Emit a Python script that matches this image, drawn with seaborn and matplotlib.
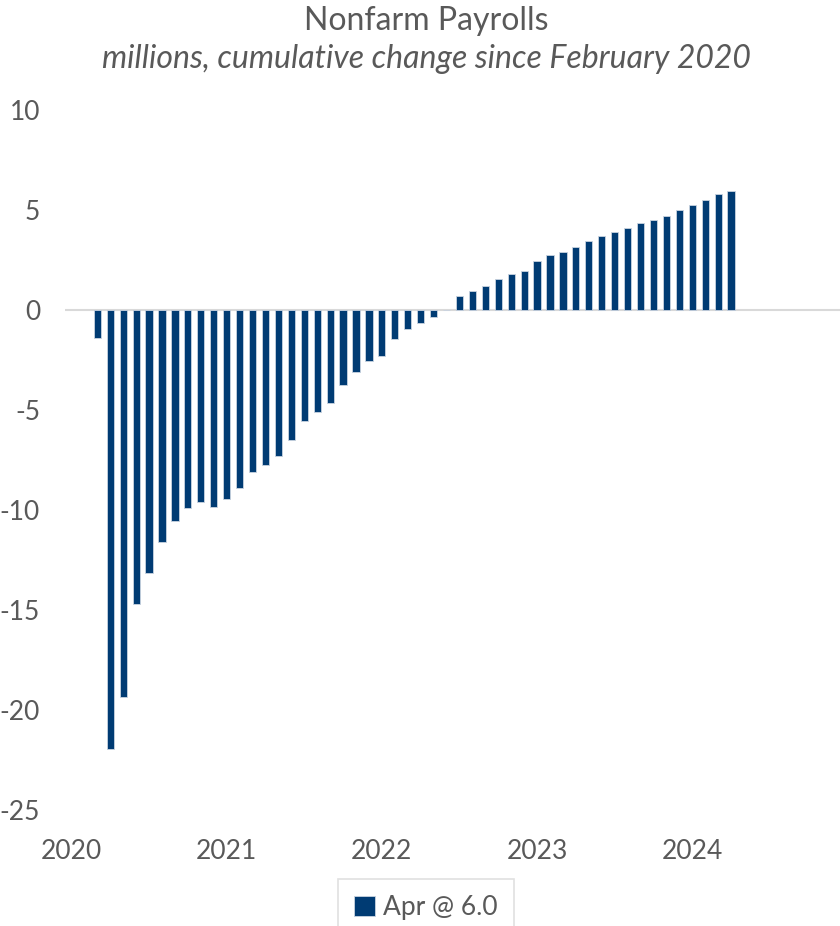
import matplotlib
matplotlib.use('Agg')
import matplotlib.pyplot as plt
import seaborn as sns
import pandas as pd
import numpy as np

# monthly cumulative change in nonfarm payrolls since Feb 2020, millions
months = pd.date_range('2020-03-01', '2024-04-01', freq='MS').strftime('%Y-%m').tolist()
values = [
    -1.42, -21.95, -19.37, -14.72, -13.13, -11.60, -10.53, -9.88, -9.60, -9.83,   # 2020 Mar-Dec
    -9.45, -8.92, -8.08, -7.77, -7.28, -6.52, -5.57, -5.10, -4.63, -3.77, -3.12, -2.55,  # 2021
    -2.30, -1.43, -0.93, -0.67, -0.37, -0.02, 0.70, 0.95, 1.20, 1.57, 1.82, 1.97,  # 2022
    2.45, 2.73, 2.88, 3.17, 3.47, 3.70, 3.88, 4.10, 4.35, 4.50, 4.70, 5.00,  # 2023
    5.25, 5.48, 5.80, 5.97,  # 2024 Jan-Apr
]
all_months = pd.date_range('2020-01-01', '2024-12-01', freq='MS').strftime('%Y-%m').tolist()
year_labels = ['2020', '2021', '2022', '2023', '2024']
legend_label = 'Apr @ 6.0'

navy = '#003B73'
grey = '#595959'

sns.set_style('white')
plt.rcParams['font.family'] = ['Lato', 'DejaVu Sans']
plt.rcParams['axes.unicode_minus'] = False

df = pd.DataFrame({'month': months, 'value': values})

fig = plt.figure(figsize=(8.4, 9.26), dpi=100)
ax = fig.add_axes([65 / 840, 116 / 926, 776 / 840, 700 / 926])

sns.barplot(data=df, x='month', y='value', order=all_months, color=navy,
            width=0.56, saturation=1, edgecolor='#c9d3e0', linewidth=0.6,
            label=legend_label, ax=ax)

ax.set_ylim(-25, 10)
ax.set_yticks([10, 5, 0, -5, -10, -15, -20, -25])
ax.set_xlim(-0.5, len(all_months) - 0.5)
ax.set_xticks([all_months.index(y + '-01') for y in year_labels])
ax.set_xticklabels(year_labels)
ax.axhline(0, color='#d9d9d9', linewidth=1.5, zorder=0)

ax.tick_params(axis='both', length=0, labelsize=19, colors=grey)
ax.tick_params(axis='y', pad=18)
ax.tick_params(axis='x', pad=21)
ax.set_xlabel('')
ax.set_ylabel('')
sns.despine(ax=ax, left=True, bottom=True)

fig.text(426 / 840, 1 - 21 / 926, 'Nonfarm Payrolls', ha='center', va='center',
         fontsize=23, color=grey)
fig.text(426 / 840, 1 - 59 / 926, 'millions, cumulative change since February 2020',
         ha='center', va='center', fontsize=23, style='italic', color=grey)

leg = ax.legend(loc='upper center', bbox_to_anchor=(426 / 840, 1 - 879 / 926),
                bbox_transform=fig.transFigure, frameon=True, fontsize=19,
                handlelength=0.8, handleheight=0.8, handletextpad=0.3,
                borderpad=0.6, borderaxespad=0, fancybox=False)
leg.get_frame().set_edgecolor('#d9d9d9')
leg.get_frame().set_linewidth(1.2)
for t in leg.get_texts():
    t.set_color(grey)

plt.savefig('out.png', dpi=100)
